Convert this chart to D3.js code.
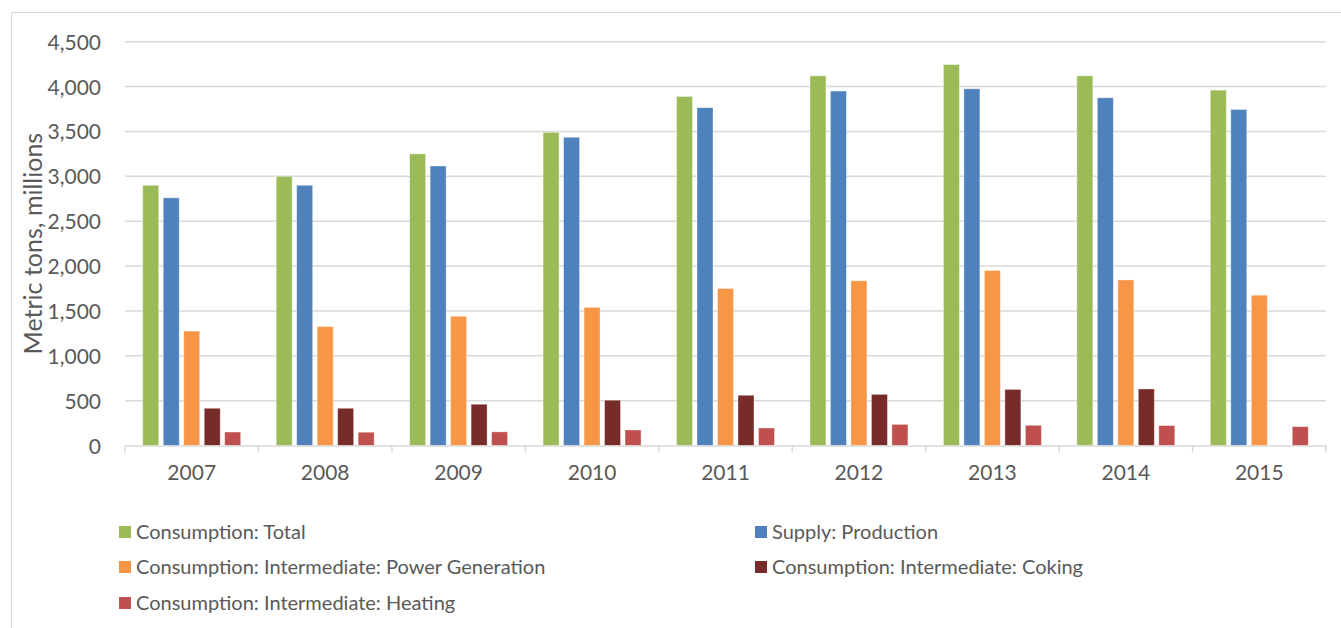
<!DOCTYPE html>
<html>
<head>
<meta charset="utf-8">
<script src="https://cdn.jsdelivr.net/npm/d3@7"></script>
<style>
  html, body { margin: 0; padding: 0; background: #fff; }
  svg { display: block; }
  text { font-family: Lato, "Open Sans", sans-serif; fill: #595959; }
</style>
</head>
<body>
<svg id="chart" width="1341" height="628"></svg>
<script>
// Coal supply and consumption, metric tons (millions)
const years = ["2007", "2008", "2009", "2010", "2011", "2012", "2013", "2014", "2015"];
const seriesNames = [
  "Consumption: Total",
  "Supply: Production",
  "Consumption: Intermediate: Power Generation",
  "Consumption: Intermediate: Coking",
  "Consumption: Intermediate: Heating"
];
const consumptionTotal = [2900, 3000, 3250, 3490, 3890, 4120, 4245, 4120, 3960];
const supplyProduction = [2760, 2900, 3115, 3435, 3765, 3950, 3975, 3875, 3745];
const powerGeneration  = [1275, 1325, 1440, 1540, 1750, 1835, 1950, 1845, 1675];
const coking           = [415, 415, 460, 505, 560, 570, 625, 630, null];
const heating          = [150, 148, 152, 173, 195, 235, 225, 222, 210];
const seriesColors = ["#9BBB59", "#4F81BD", "#F79646", "#772C2A", "#C0504D"];
const yTicks = [0, 500, 1000, 1500, 2000, 2500, 3000, 3500, 4000, 4500];

const seriesValues = [consumptionTotal, supplyProduction, powerGeneration, coking, heating];

const svg = d3.select("#chart");

// chart area frame
svg.append("rect")
  .attr("x", 11.5).attr("y", 12.5)
  .attr("width", 1400).attr("height", 700)
  .attr("fill", "none").attr("stroke", "#D9D9D9").attr("stroke-width", 1);

const plot = { left: 125, right: 1326, top: 41.7, bottom: 445.5 };

const y = d3.scaleLinear().domain([0, 4500]).range([plot.bottom, plot.top]);
const x0 = d3.scaleBand().domain(years).range([plot.left, plot.right]).padding(0);
const inner = 15.5;
const x1 = d3.scaleBand().domain(seriesNames)
  .range([inner, x0.bandwidth() - inner])
  .paddingInner(0.22).paddingOuter(0.11);

// gridlines
svg.append("g")
  .selectAll("line")
  .data(yTicks.filter(t => t > 0))
  .join("line")
  .attr("x1", plot.left).attr("x2", plot.right)
  .attr("y1", d => y(d)).attr("y2", d => y(d))
  .attr("stroke", "#D9D9D9").attr("stroke-width", 1.5);

// y-axis labels
const yAxis = svg.append("g")
  .attr("transform", `translate(${plot.left},0)`)
  .call(d3.axisLeft(y).tickValues(yTicks).tickSize(0).tickPadding(24).tickFormat(d3.format(",")));
yAxis.select(".domain").remove();
yAxis.selectAll("text")
  .style("font-size", "21px")
  .attr("fill", "#595959")
  .attr("dy", "0.36em");

// bars
const groups = svg.append("g")
  .selectAll("g")
  .data(years)
  .join("g")
  .attr("transform", d => `translate(${x0(d)},0)`);

groups.selectAll("rect")
  .data((yr, i) => seriesNames
    .map((s, k) => ({ series: s, value: seriesValues[k][i], color: seriesColors[k] }))
    .filter(d => d.value != null))
  .join("rect")
  .attr("x", d => x1(d.series))
  .attr("width", x1.bandwidth())
  .attr("y", d => y(d.value))
  .attr("height", d => y(0) - y(d.value))
  .attr("fill", d => d.color)
  .attr("stroke", "#fff").attr("stroke-opacity", 0.45).attr("stroke-width", 0.8);

// x axis
const xAxis = svg.append("g")
  .attr("transform", `translate(0,${plot.bottom})`)
  .call(d3.axisBottom(x0).tickSize(0).tickPadding(20));
xAxis.select(".domain").attr("stroke", "#D9D9D9").attr("stroke-width", 1.5);
xAxis.selectAll("text").style("font-size", "21px").attr("fill", "#595959");

// category separators on the x axis
const bounds = years.map(d => x0(d)).concat([plot.right]);
svg.append("g")
  .selectAll("line")
  .data(bounds)
  .join("line")
  .attr("x1", d => d).attr("x2", d => d)
  .attr("y1", plot.bottom).attr("y2", plot.bottom + 7)
  .attr("stroke", "#D9D9D9").attr("stroke-width", 1.5);

// y-axis title
svg.append("text")
  .attr("transform", `translate(42,${(plot.top + plot.bottom) / 2}) rotate(-90)`)
  .attr("text-anchor", "middle")
  .style("font-size", "25px")
  .text("Metric tons, millions");

// legend (two columns, row-major)
const legendCols = [119, 755];
const legendRows = [532, 567, 603];
const legend = svg.append("g")
  .selectAll("g")
  .data(seriesNames)
  .join("g")
  .attr("transform", (d, i) => `translate(${legendCols[i % 2]},${legendRows[Math.floor(i / 2)]})`);
legend.append("rect")
  .attr("x", 0).attr("y", -6).attr("width", 12).attr("height", 12)
  .attr("fill", (d, i) => seriesColors[i]);
legend.append("text")
  .attr("x", 17).attr("dy", "0.36em")
  .style("font-size", "20px")
  .text(d => d);
</script>
</body>
</html>
